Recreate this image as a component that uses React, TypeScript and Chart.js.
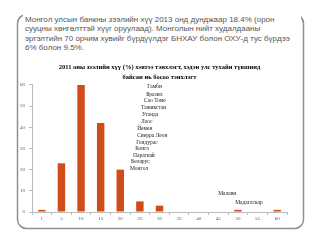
import React, { useEffect, useRef } from "react";
import { Chart, registerables } from "chart.js";

Chart.register(...registerables);

const categories = ["1", "5", "10", "15", "20", "25", "30", "35", "40", "45", "50", "55", "60"];
const countryCounts = [1, 23, 60, 42, 20, 5, 3, 0, 0, 0, 1, 0, 1];
const yTicks = [0, 10, 20, 30, 40, 50, 60];

const titleLines = [
  "2011 оны зээлийн хүү (%) хэвтээ тэнхлэгт, хэдэн улс тухайн түвшинд",
  "байсан нь босоо тэнхлэгт",
];

const noteLines = [
  "Монгол улсын банкны зээлийн хүү 2013 онд дунджаар 18.4% (орон",
  "сууцны хөнгөлттэй хүүг оруулаад). Монголын нийт худалдааны",
  "эргэлтийн 70 орчим хувийг бүрдүүлдэг БНХАУ болон ОХУ-д тус бүрдээ",
  "6% болон 9.5%.",
];

// annotation labels placed in data units (category index, value)
const annotationNames = [
  "Гамби", "Бразил", "Сао Томе", "Тажикстан", "Уганда", "Лаос", "Йемен",
  "Сиерра Леон", "Гондурас", "Конго", "Парагвай", "Беларус", "Монгол",
  "Малави", "Мадагаскар",
];
const annotationX = [5.37, 5.32, 5.21, 5.06, 5.11, 5.06, 4.86, 4.86, 4.81, 4.76, 4.65, 4.55, 4.5, 8.99, 9.86];
const annotationY = [59.4, 55.7, 52.6, 49.1, 46.0, 42.7, 39.2, 36.0, 32.9, 29.8, 26.6, 23.8, 20.6, 8.5, 4.3];

const annotationPlugin = {
  id: "countryLabels",
  afterDatasetsDraw(chart: any) {
    const { ctx, scales } = chart;
    const xs = scales.x;
    const ys = scales.y;
    ctx.save();
    ctx.font = "5.5px 'Liberation Serif'";
    ctx.fillStyle = "#222";
    ctx.textAlign = "left";
    ctx.textBaseline = "middle";
    annotationNames.forEach((name, i) => {
      ctx.fillText(name, xs.getPixelForValue(annotationX[i]), ys.getPixelForValue(annotationY[i]));
    });
    ctx.restore();
  },
};

const framePlugin = {
  id: "frame",
  beforeDatasetsDraw(chart: any) {
    const { ctx } = chart;
    ctx.save();
    ctx.strokeStyle = "#909090";
    ctx.lineWidth = 1.5;
    ctx.beginPath();
    const x = 17.5, y = 14.5, w = 286, h = 214, r = 9;
    ctx.moveTo(x + r, y);
    ctx.lineTo(x + w - r, y);
    ctx.arcTo(x + w, y, x + w, y + r, r);
    ctx.lineTo(x + w, y + h - r);
    ctx.arcTo(x + w, y + h, x + w - r, y + h, r);
    ctx.lineTo(x + r, y + h);
    ctx.arcTo(x, y + h, x, y + h - r, r);
    ctx.lineTo(x, y + r);
    ctx.arcTo(x, y, x + r, y, r);
    ctx.closePath();
    ctx.stroke();
    ctx.restore();
  },
};

export default function App() {
  const canvasRef = useRef<HTMLCanvasElement | null>(null);

  useEffect(() => {
    const canvas = canvasRef.current;
    if (!canvas) return;
    const chart = new Chart(canvas, {
      type: "bar",
      data: {
        labels: categories,
        datasets: [
          {
            data: countryCounts,
            backgroundColor: "#D24C1A",
            borderWidth: 0,
            barPercentage: 0.38,
            categoryPercentage: 1,
          },
        ],
      },
      options: {
        animation: false,
        responsive: false,
        maintainAspectRatio: false,
        devicePixelRatio: 1,
        layout: { padding: { left: 0, right: 33, top: 62.75, bottom: 23 } },
        plugins: {
          legend: { display: false },
          tooltip: { enabled: false },
          title: {
            display: true,
            fullSize: false,
            text: titleLines,
            color: "#000",
            font: { family: "'Liberation Serif'", size: 6.5, weight: "bold", lineHeight: 1.46 },
            padding: { top: 0, bottom: 3.25 },
          },
        },
        scales: {
          x: {
            grid: { display: true, drawOnChartArea: false, drawTicks: true, tickLength: 3, color: "#bbb" },
            border: { display: true, color: "#bbb" },
            ticks: {
              color: "#555",
              font: { family: "'Liberation Serif'", size: 5 },
              padding: 1,
              maxRotation: 0,
              autoSkip: false,
            },
            afterFit(scale: any) {
              scale.height = 12;
            },
          },
          y: {
            min: 0,
            max: 60,
            afterBuildTicks(scale: any) {
              scale.ticks = yTicks.map((v) => ({ value: v }));
            },
            grid: { display: true, drawOnChartArea: false, drawTicks: true, tickLength: 3, color: "#bbb" },
            border: { display: true, color: "#bbb" },
            ticks: {
              color: "#555",
              font: { family: "'Liberation Serif'", size: 5 },
              padding: 4,
            },
            afterFit(scale: any) {
              scale.width = 32;
            },
          },
        },
      },
      plugins: [framePlugin, annotationPlugin],
    });
    return () => chart.destroy();
  }, []);

  return (
    <div style={{ position: "absolute", left: 0, top: 0, width: 320, height: 247, background: "#fff" }}>
      <canvas ref={canvasRef} width={320} height={247} style={{ position: "absolute", left: 0, top: 0, width: 320, height: 247 }} />
      <div
        style={{
          position: "absolute",
          left: 23,
          top: 12,
          width: 276,
          background: "#fff",
          fontFamily: "'Liberation Sans', sans-serif",
          fontSize: 8,
          lineHeight: "9.4px",
          color: "#555",
          whiteSpace: "nowrap",
          paddingLeft: 2,
          paddingTop: 3,
        }}
      >
        {noteLines.map((l, i) => (
          <div key={i}>{l}</div>
        ))}
      </div>
    </div>
  );
}
